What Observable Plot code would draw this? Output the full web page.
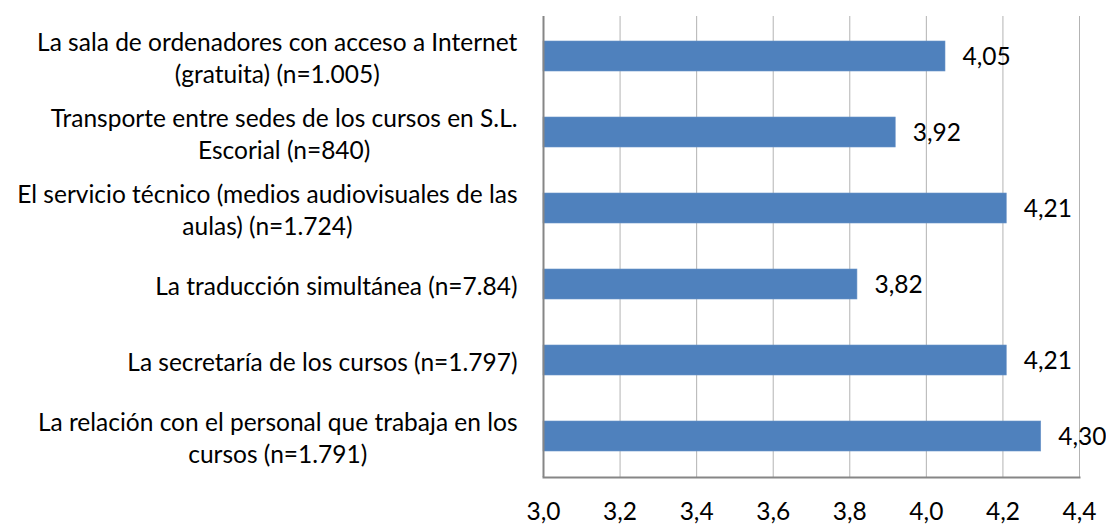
<!DOCTYPE html>
<html>
<head>
<meta charset="utf-8">
<script src="https://cdn.jsdelivr.net/npm/d3@7"></script>
<script src="https://cdn.jsdelivr.net/npm/@observablehq/plot@0.6"></script>
<style>
  html, body { margin: 0; padding: 0; background: #fff; }
  svg { display: block; }
</style>
</head>
<body>
<div id="chart"></div>
<script>
// Categories (top to bottom), with explicit line breaks as in the reference
const categories = [
  "La sala de ordenadores con acceso a Internet\n(gratuita) (n=1.005)",
  "Transporte entre sedes de los cursos en S.L.\nEscorial (n=840)",
  "El servicio técnico (medios audiovisuales de las\naulas) (n=1.724)",
  "La traducción simultánea (n=7.84)",
  "La secretaría de los cursos (n=1.797)",
  "La relación con el personal que trabaja en los\ncursos (n=1.791)"
];
const values = [4.05, 3.92, 4.21, 3.82, 4.21, 4.30];
const xDomain = [3.0, 4.4];
const xTicks = [3.0, 3.2, 3.4, 3.6, 3.8, 4.0, 4.2, 4.4];

const data = categories.map((c, i) => ({category: c, value: values[i]}));
const comma = (d, n) => d.toFixed(n).replace(".", ",");

const FONT = "Lato, 'Open Sans', sans-serif";
const FS = 24.5;

const chart = Plot.plot({
  width: 1106,
  height: 525,
  marginLeft: 543,
  marginRight: 27,
  marginTop: 16,
  marginBottom: 48,
  style: {fontFamily: FONT, fontSize: FS + "px", color: "#000", background: "#fff"},
  x: {domain: xDomain, ticks: xTicks},
  y: {domain: categories, paddingInner: 0.6, paddingOuter: 0.3},
  marks: [
    Plot.gridX(xTicks.slice(1), {stroke: "#b3b3b3", strokeOpacity: 1, strokeWidth: 1}),
    Plot.barX(data, {x1: () => xDomain[0], x2: "value", y: "category", fill: "#4F81BD", stroke: "#6a94c8", strokeWidth: 0.6}),
    Plot.text(data, {x: "value", y: "category", text: d => comma(d.value, 2), textAnchor: "start", dx: 17, dy: 1, fill: "#000", fontSize: FS}),
    Plot.ruleX([xDomain[0]], {stroke: "#868686", strokeWidth: 2}),
    Plot.frame({anchor: "bottom", stroke: "#868686", strokeWidth: 2}),
    Plot.axisX(xTicks, {tickSize: 0, tickPadding: 25, tickFormat: d => comma(d, 1), fontSize: FS, fill: "#000", label: null}),
    Plot.axisY({tickSize: 0, tickPadding: 26, fontSize: FS, lineHeight: 1.32, fill: "#000", label: null})
  ]
});

document.getElementById("chart").appendChild(chart);

// Center the lines of multi-line category labels within their right-aligned block
chart.querySelectorAll("g[aria-label='y-axis tick label'] text").forEach(t => {
  const spans = t.querySelectorAll("tspan");
  if (spans.length > 1) {
    const w = t.getBBox().width;
    t.setAttribute("text-anchor", "middle");
    const tr = t.getAttribute("transform") || "";
    t.setAttribute("transform", tr + ` translate(${-w / 2},0)`);
  }
});
</script>
</body>
</html>
